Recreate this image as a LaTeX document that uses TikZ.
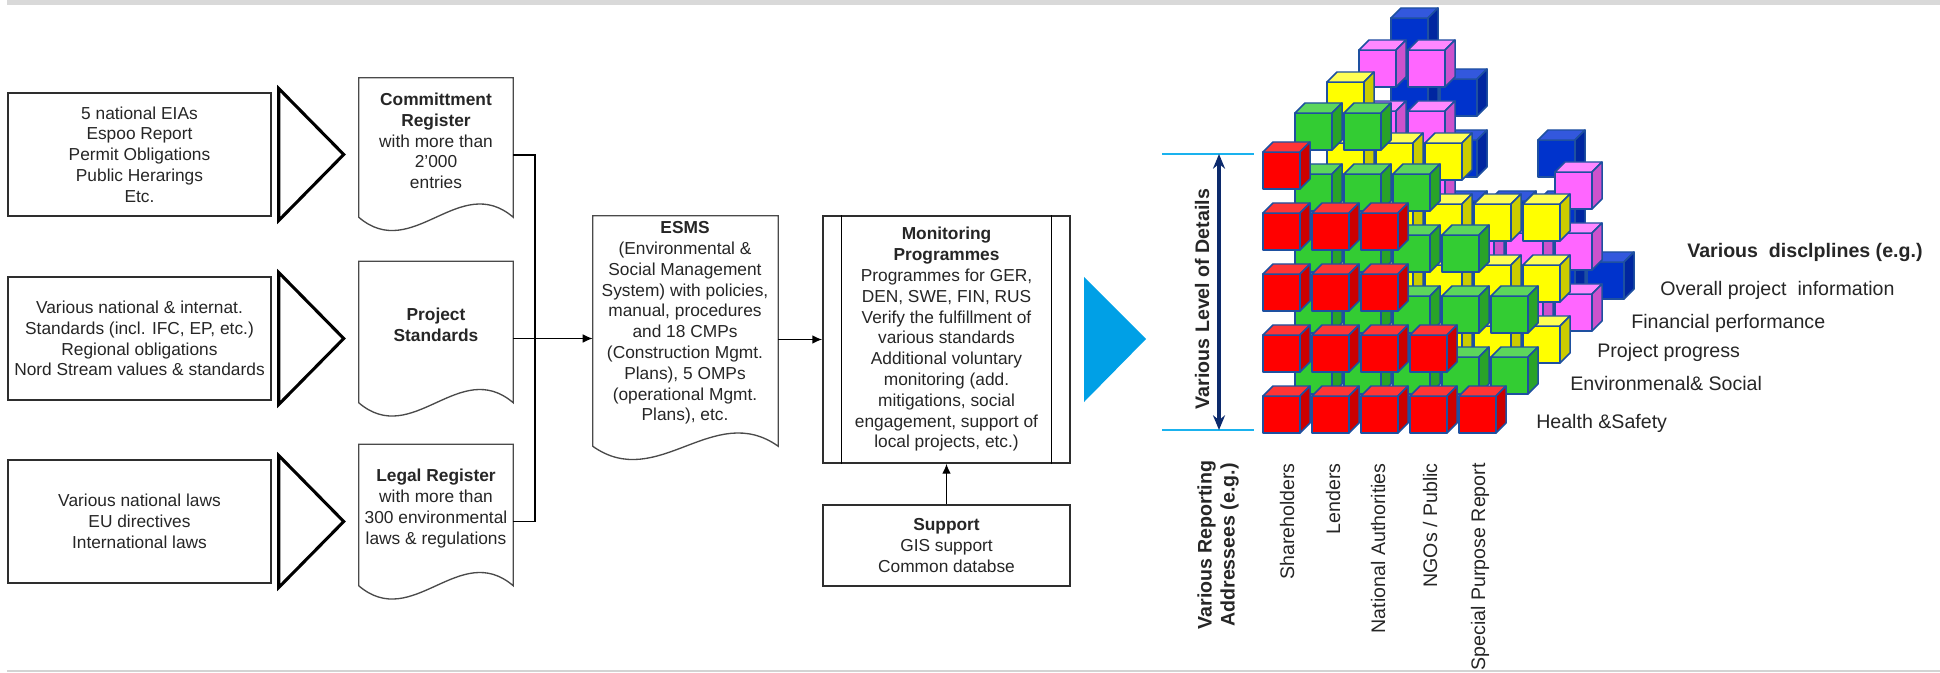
\documentclass[tikz,border=0pt]{standalone}
\usepackage{fontspec}
\setmainfont{Liberation Sans}
\usetikzlibrary{arrows.meta,calc}

\definecolor{txt}{HTML}{262626}
\definecolor{lineg}{HTML}{2E2E2E}
\definecolor{docg}{HTML}{4A4A4A}
\definecolor{topbar}{HTML}{D9D9D9}
\definecolor{botline}{HTML}{D3D3D3}
\definecolor{tricol}{HTML}{00A0E6}
\definecolor{lvline}{HTML}{1AB2EE}
\definecolor{navy}{HTML}{0C2A6C}
\definecolor{cubeedge}{HTML}{1E50A0}
\definecolor{redF}{HTML}{FF0000}\definecolor{redT}{HTML}{FF3535}\definecolor{redS}{HTML}{CC0000}
\definecolor{grnF}{HTML}{33CC33}\definecolor{grnT}{HTML}{5CD65C}\definecolor{grnS}{HTML}{29A329}
\definecolor{ylwF}{HTML}{FFFF00}\definecolor{ylwT}{HTML}{FFFF55}\definecolor{ylwS}{HTML}{CCCC00}
\definecolor{pnkF}{HTML}{FF66FF}\definecolor{pnkT}{HTML}{FF88FF}\definecolor{pnkS}{HTML}{CC52CC}
\definecolor{bluF}{HTML}{0033CC}\definecolor{bluT}{HTML}{3358DD}\definecolor{bluS}{HTML}{0026A0}

\newcommand{\upx}{0.75pt}
\newcommand{\boxfont}{\fontsize{13}{15.6}\selectfont}
\newcommand{\lblfont}{\fontsize{14.7}{17.25}\selectfont}

\newcommand{\docpath}[3]{%
  \draw[docline] (#1.north west) -- (#1.north east) -- ($(#1.south east)+(0,-#3)$)
    .. controls ($(#1.south east)+(-0.35*#2,-#3-46)$) and ($(#1.south west)+(0.35*#2,-#3+46)$)
    .. ($(#1.south west)+(0,-#3)$) -- cycle;}

\newcommand{\drawcube}[3]{%
  \filldraw[cubeline, fill=#3F] (#1,#2) rectangle ++(37,37);
  \filldraw[cubeline, fill=#3T] (#1,#2) -- ++(10,-10) -- ++(37,0) -- ++(-10,10) -- cycle;
  \filldraw[cubeline, fill=#3S] (#1+37,#2) -- ++(10,-10) -- ++(0,37) -- ++(-10,10) -- cycle;}

\newcommand{\cubeplane}[4]{%
  \foreach \i/\j in {#4} {
    \pgfmathsetmacro{\X}{1263+32*#1+49*\i}
    \pgfmathsetmacro{\Y}{396-61*\j-#3}
    \drawcube{\X}{\Y}{#2}
  }}

\begin{document}
\begin{tikzpicture}[x=0.75pt,y=-0.75pt,
  inbox/.style={draw=lineg, line width=1.1pt, fill=white, inner sep=0pt, text=txt,
     font=\boxfont, align=center, minimum width=263*\upx, minimum height=123*\upx},
  tri/.style={draw=black, line width=2.3pt, line join=miter, fill=white},
  docshape/.style={draw=none, inner sep=0pt, minimum width=154*\upx, minimum height=154*\upx},
  docline/.style={draw=docg, line width=1.0pt, fill=white},
  doctext/.style={text=txt, font=\boxfont, align=center, inner sep=0pt},
  pbox/.style={draw=lineg, line width=1.1pt, fill=white, inner sep=0pt, text=txt,
     font=\boxfont, align=center, minimum width=247*\upx},
  conn/.style={draw=black, line width=1.1pt},
  arr/.style={conn, -{Latex[length=7.5pt,width=6.5pt]}},
  cubeline/.style={draw=cubeedge, line width=1.1pt, line join=round},
  lbl/.style={text=txt, font=\lblfont, inner sep=0pt},
  lblb/.style={lbl, font=\lblfont\bfseries}
]
\useasboundingbox (0,0) rectangle (1940,673);

% frame lines
\fill[topbar] (7,0) rectangle (1940,5);
\draw[botline, line width=1.1pt] (7,671) -- (1940,671);

% ---------- input boxes ----------
\node[inbox] (in1) at (139.5,154.5) {5 national EIAs\\Espoo Report\\Permit Obligations\\Public Herarings\\Etc.};
\node[inbox] (in2) at (139.5,338.5) {Various national \& internat.\\Standards (incl. IFC, EP, etc.)\\Regional obligations\\Nord Stream values \& standards};
\node[inbox] (in3) at (139.5,521.5) {Various national laws\\EU directives\\International laws};

\foreach \n in {in1,in2,in3}
  \draw[tri] ($(\n.east)+(7,-66)$) -- ($(\n.east)+(72,0)$) -- ($(\n.east)+(7,66)$) -- cycle;

% ---------- documents ----------
\node[docshape] (cr) at (436,155) {};
\docpath{cr}{154}{15}
\node[doctext] (crt) at (436,141) {\textbf{Committment}\\\textbf{Register}\\with more than\\2'000\\entries};

\node[docshape] (ps) at (436,338.5) {};
\docpath{ps}{154}{13}
\node[doctext] (pst) at (436,325) {\textbf{Project}\\\textbf{Standards}};

\node[docshape] (lr) at (436,521.5) {};
\docpath{lr}{154}{13}
\node[doctext] (lrt) at (436,508.5) {\textbf{Legal Register}\\with more than\\300 environmental\\laws \& regulations};

\node[docshape, minimum width=185*\upx, minimum height=247*\upx] (esms) at (685.5,339.5) {};
\docpath{esms}{185}{17}
\node[doctext] (esmst) at (685,323) {\textbf{ESMS}\\(Environmental \&\\Social Management\\System) with policies,\\manual, procedures\\and 18 CMPs\\(Construction Mgmt.\\Plans), 5 OMPs\\(operational Mgmt.\\Plans), etc.};

% ---------- monitoring & support ----------
\node[pbox, minimum height=247*\upx] (mon) at (946.5,339.5) {\textbf{Monitoring}\\\textbf{Programmes}\\Programmes for GER,\\DEN, SWE, FIN, RUS\\Verify the fulfillment of\\various standards\\Additional voluntary\\monitoring (add.\\mitigations, social\\engagement, support of\\local projects, etc.)};
\draw[conn] ($(mon.north west)+(19,0)$) -- ($(mon.south west)+(19,0)$);
\draw[conn] ($(mon.north east)+(-19,0)$) -- ($(mon.south east)+(-19,0)$);

\node[pbox, minimum height=81*\upx] (sup) at (946.5,545.5) {\textbf{Support}\\GIS support\\Common databse};

% ---------- connectors ----------
\coordinate (jn) at (535,339);
\draw[conn] (cr.east) -| (jn);
\draw[conn] (lr.east) -| (jn);
\draw[arr] (ps.east) -- (ps.east -| esms.west);
\draw[arr] (esms.east) -- (mon.west);
\draw[arr] (sup.north) -- (mon.south);

% ---------- big blue triangle ----------
\fill[tricol] (1084,277) -- (1146,339) -- (1084,402) -- cycle;

% ---------- level of detail ----------
\coordinate (lvtop) at (1219,154);
\coordinate (lvbot) at (1219,430);
\draw[lvline, line width=1.8pt] (1162,154) -- (1254,154);
\draw[lvline, line width=1.8pt] (1162,430) -- (1254,430);
\draw[navy, line width=2.6pt, {Stealth[length=11pt,width=9pt]}-{Stealth[length=11pt,width=9pt]}] (lvtop) -- (lvbot);
\node[lblb, rotate=90] (lvl) at (1202,299) {Various Level of Details};

% ---------- cube lattice (back to front) ----------
\cubeplane{4}{blu}{134}{0/0,1/0,2/0,3/0,4/0, 0/1,1/1,2/1,3/1, 0/2,1/2,3/2, 0/3,1/3, 0/4}
\cubeplane{3}{pnk}{102}{0/0,1/0,2/0,3/0,4/0, 0/1,1/1,2/1,3/1,4/1, 0/2,1/2,4/2, 0/3,1/3, 0/4,1/4}
\cubeplane{2}{ylw}{70}{0/0,1/0,2/0,3/0,4/0, 0/1,1/1,2/1,3/1,4/1, 0/2,1/2,2/2,3/2,4/2, 0/3,1/3,2/3, 0/4}
\cubeplane{1}{grn}{39}{0/0,1/0,2/0,3/0,4/0, 0/1,1/1,2/1,3/1,4/1, 0/2,1/2,2/2,3/2, 0/3,1/3,2/3, 0/4,1/4}
\cubeplane{0}{red}{0}{0/0,1/0,2/0,3/0,4/0, 0/1,1/1,2/1,3/1, 0/2,1/2,2/2, 0/3,1/3,2/3, 0/4}

% ---------- discipline labels ----------
\node[lblb, anchor=west] (disc) at (1687,252) {Various\ \ disclplines (e.g.)};
\node[lbl, anchor=west] (d5) at (1660,290) {Overall project\ \ information};
\node[lbl, anchor=west] (d4) at (1631,323) {Financial performance};
\node[lbl, anchor=west] (d3) at (1597,352) {Project progress};
\node[lbl, anchor=west] (d2) at (1570,383) {Environmenal\& Social};
\node[lbl, anchor=west] (d1) at (1536,423) {Health \&Safety};

% ---------- addressee labels ----------
\node[lblb, rotate=90, align=center] (addr) at (1218,545) {Various Reporting\\Addressees (e.g.)};
\node[lbl, rotate=90, anchor=east] (a1) at (1287,463) {Shareholders};
\node[lbl, rotate=90, anchor=east] (a2) at (1333,463) {Lenders};
\node[lbl, rotate=90, anchor=east] (a3) at (1378,463) {National Authorities};
\node[lbl, rotate=90, anchor=east] (a4) at (1430,463) {NGOs / Public};
\node[lbl, rotate=90, anchor=east] (a5) at (1480,463) {Special Purpose Report};
\end{tikzpicture}
\end{document}
